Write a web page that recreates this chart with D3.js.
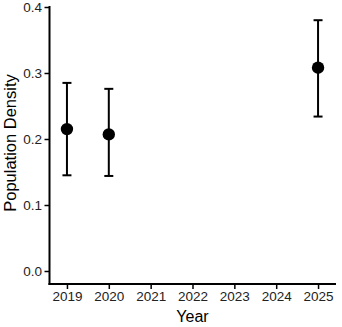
<!DOCTYPE html>
<html>
<head>
<meta charset="utf-8">
<script src="https://cdn.jsdelivr.net/npm/d3@7"></script>
<style>
  body { margin: 0; background: #fff; }
  text { font-family: "Liberation Sans", Arial, sans-serif; }
</style>
</head>
<body>
<div id="chart"></div>
<script>
const years = [2019, 2020, 2025];
const means = [0.215, 0.207, 0.308];
const lower = [0.145, 0.144, 0.234];
const upper = [0.285, 0.276, 0.380];
const xTicks = [2019, 2020, 2021, 2022, 2023, 2024, 2025];
const yTicks = [0.0, 0.1, 0.2, 0.3, 0.4];

const width = 342, height = 327;
const svg = d3.select('#chart').append('svg').attr('width', width).attr('height', height);

const x = d3.scaleLinear().domain([2018.583, 2025.417]).range([49.5, 335.5]);
const y = d3.scaleLinear().domain([0, 0.4]).range([271, 7]);
const axisBottomY = 284;

// axes
const yAxis = d3.axisLeft(y).tickValues(yTicks).tickFormat(d3.format('.1f')).tickSize(5).tickPadding(2.5).tickSizeOuter(0);
const xAxis = d3.axisBottom(x).tickValues(xTicks).tickFormat(d3.format('d')).tickSize(5).tickPadding(2.5).tickSizeOuter(0);

const gy = svg.append('g').attr('transform', 'translate(49.5,0)').call(yAxis);
const gx = svg.append('g').attr('transform', `translate(0,${axisBottomY})`).call(xAxis);

[gx, gy].forEach(g => {
  g.select('.domain').remove();
  g.selectAll('.tick line').attr('stroke', '#000').attr('stroke-width', 1.5);
  g.selectAll('.tick text').attr('fill', '#222').style('font-size', '13.5px');
});

svg.append('line').attr('x1', 49.5).attr('x2', 49.5).attr('y1', 6).attr('y2', axisBottomY + 1)
  .attr('stroke', '#000').attr('stroke-width', 2);
svg.append('line').attr('x1', 48.5).attr('x2', 336).attr('y1', axisBottomY).attr('y2', axisBottomY)
  .attr('stroke', '#000').attr('stroke-width', 2);

// titles
svg.append('text').attr('x', x(2022)).attr('y', 322).attr('text-anchor', 'middle')
  .style('font-size', '16px').attr('fill', '#000').text('Year');
svg.append('text').attr('transform', `translate(15.5,${y(0.2) + 4}) rotate(-90)`).attr('text-anchor', 'middle')
  .style('font-size', '16.5px').attr('fill', '#000').text('Population Density');

// error bars
const pts = years.map((yr, i) => ({ yr, m: means[i], lo: lower[i], hi: upper[i] }));
const eb = svg.append('g').attr('stroke', '#000').attr('stroke-width', 2);
eb.selectAll('.v').data(pts).join('line')
  .attr('x1', d => x(d.yr)).attr('x2', d => x(d.yr)).attr('y1', d => y(d.lo)).attr('y2', d => y(d.hi));
eb.selectAll('.t').data(pts).join('line')
  .attr('x1', d => x(d.yr) - 4.5).attr('x2', d => x(d.yr) + 4.5).attr('y1', d => y(d.hi)).attr('y2', d => y(d.hi));
eb.selectAll('.b').data(pts).join('line')
  .attr('x1', d => x(d.yr) - 4.5).attr('x2', d => x(d.yr) + 4.5).attr('y1', d => y(d.lo)).attr('y2', d => y(d.lo));

svg.append('g').selectAll('circle').data(pts).join('circle')
  .attr('cx', d => x(d.yr)).attr('cy', d => y(d.m)).attr('r', 6.2).attr('fill', '#000');
</script>
</body>
</html>
